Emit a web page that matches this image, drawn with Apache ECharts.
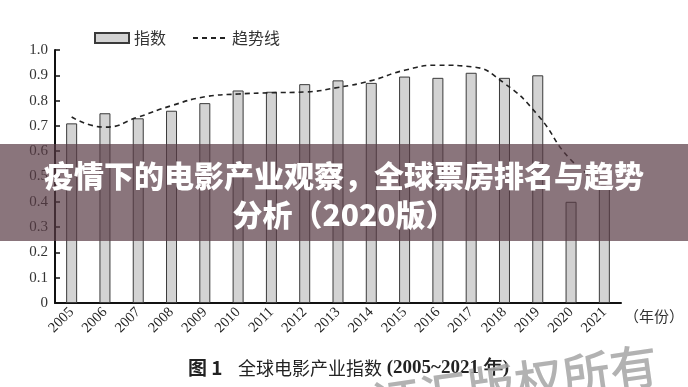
<!DOCTYPE html>
<html><head><meta charset="utf-8">
<style>html,body{margin:0;padding:0;background:#fff}#c{width:688px;height:387px}</style>
<script src="https://cdn.jsdelivr.net/npm/echarts@6/dist/echarts.min.js"></script>
</head><body><div id="c"></div>
<script>
const years = ['2005','2006','2007','2008','2009','2010','2011','2012','2013','2014','2015','2016','2017','2018','2019','2020','2021'];
const indexValues = [0.71,0.75,0.73,0.76,0.79,0.84,0.835,0.865,0.88,0.87,0.895,0.89,0.91,0.89,0.90,0.40,0.455];
const trendValues = [0.735,0.695,0.735,0.78,0.815,0.826,0.831,0.834,0.852,0.879,0.92,0.94,0.934,0.868,0.743,0.565,0.47];
const seriesNames = ['指数','趋势线'];
const titleLines = ['疫情下的电影产业观察，全球票房排名与趋势','分析（2020版）'];
const captionParts = ['图 1','全球电影产业指数',' (2005~2021 年)'];
const watermarkText = '证汇版权所有';

const serif = 'Liberation Serif, DejaVu Serif, serif';
const cjk = 'Noto Sans CJK SC, sans-serif';
const chart = echarts.init(document.getElementById('c'), null, {renderer:'canvas'});
chart.setOption({
  animation:false,
  backgroundColor:'#fff',
  legend:{
    top:30, left:94, padding:0, itemWidth:34, itemHeight:10, itemGap:26,
    textStyle:{fontSize:16, color:'#333', fontFamily:cjk},
    data:[{name:seriesNames[0], icon:'rect'}, {name:seriesNames[1], itemStyle:{opacity:0}}]
  },
  grid:{left:55, right:67, top:50, bottom:84, containLabel:false, outerBoundsMode:'none'},
  xAxis:{
    type:'category', data:years, boundaryGap:true,
    name:'（年份）', nameLocation:'end', nameGap:3,
    nameTextStyle:{fontSize:15, color:'#333', fontFamily:cjk, verticalAlign:'top', padding:[6,0,0,0]},
    axisLine:{lineStyle:{color:'#111', width:2}},
    axisTick:{inside:true, length:5, interval:0, lineStyle:{color:'#111', width:1.5}},
    axisLabel:{rotate:45, interval:0, margin:7, fontSize:14.5, color:'#222', fontFamily:serif}
  },
  yAxis:{
    type:'value', min:0, max:1, interval:0.1,
    splitLine:{show:false},
    axisLine:{show:true, lineStyle:{color:'#111', width:2}},
    axisTick:{show:true, inside:true, length:5, lineStyle:{color:'#111', width:1.5}},
    axisLabel:{margin:7, fontSize:15, color:'#333', fontFamily:serif,
      formatter:v=> v===0 ? '0' : v.toFixed(1)}
  },
  series:[
    {name:seriesNames[0], type:'bar', data:indexValues, barWidth:11,
     itemStyle:{color:'#d3d3d3', borderColor:'#3a3a3a', borderWidth:1}},
    {name:seriesNames[1], type:'line', data:trendValues, smooth:0.5, symbol:'none', z:5,
     itemStyle:{color:'#222'},
     lineStyle:{color:'#222', width:1.6, type:[5,4]}}
  ],
  graphic:[
    {type:'rect', z:100, shape:{x:0, y:144, width:688, height:97}, style:{fill:'rgba(88,58,68,0.7)'}},
    {type:'text', z:101, x:344, y:176, style:{text:titleLines[0], fill:'#fff', font:'900 30px '+cjk, align:'center', verticalAlign:'middle'}},
    {type:'text', z:101, x:344, y:215, style:{text:titleLines[1], fill:'#fff', font:'900 30px '+cjk, align:'center', verticalAlign:'middle'}},
    {type:'text', z:101, x:188, y:368, style:{
      text:'{a|'+captionParts[0]+'}{b|'+captionParts[1]+'}{c|'+captionParts[2]+'}',
      verticalAlign:'middle',
      rich:{
        a:{fontSize:19, fontWeight:'bold', fontFamily:cjk, fill:'#222', width:50},
        b:{fontSize:18, fontFamily:cjk, fill:'#222'},
        c:{fontSize:19, fontWeight:'bold', fontFamily:serif, fill:'#222'}
      }}},
    {type:'text', z:102, x:515, y:384, rotation:0.14, style:{text:watermarkText, fill:'rgba(165,165,165,0.85)', font:'500 48px '+cjk, align:'center', verticalAlign:'middle'}}
  ]
});
</script></body></html>
